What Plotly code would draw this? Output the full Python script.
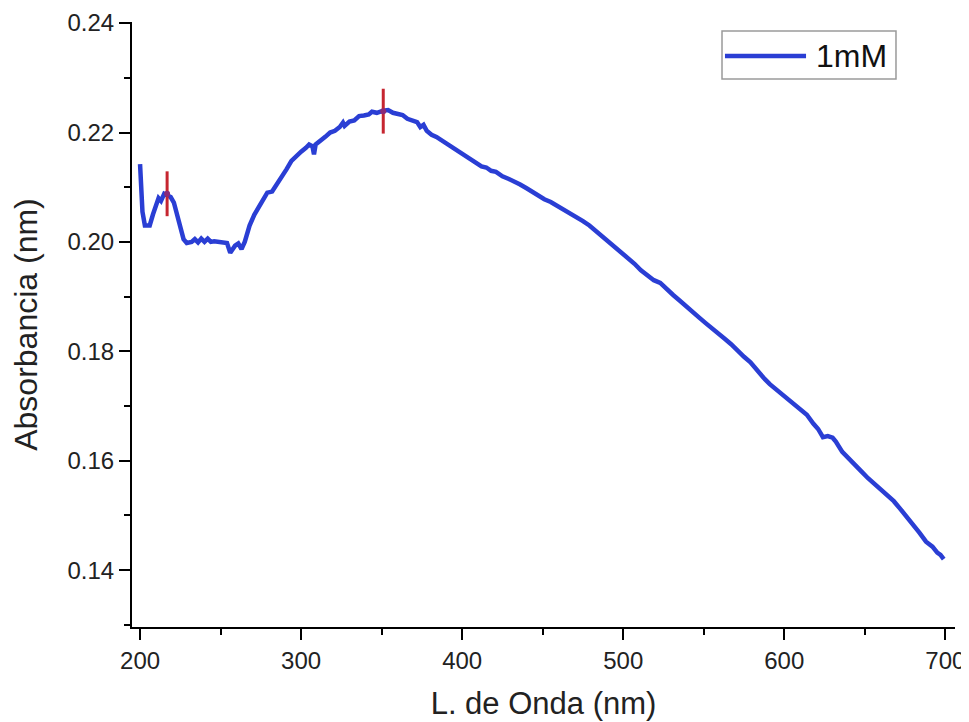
import plotly.graph_objects as go

# ---- data ----
wavelength = [200, 200.8, 201.5, 203, 206, 208, 210, 211.5, 213, 215, 217, 219, 221, 223, 225, 227, 229,
              232, 234, 236, 238, 240, 242, 244, 246, 250, 254, 256, 257.5, 259, 261, 263, 265, 268, 271,
              274, 277, 279, 282, 285, 288, 291, 294, 297, 300, 303, 305, 307, 308, 309, 312, 315, 318,
              321, 324, 326, 327, 330, 333, 336, 339, 342, 344, 347, 351, 354, 357, 360, 363, 366, 369,
              372, 374, 376, 378, 381, 384, 387, 390, 393, 396, 399, 402, 405, 409, 412, 415, 418, 421,
              425, 429, 432, 436, 440, 444, 447, 451, 455, 459, 463, 467, 471, 475, 479, 483, 487, 491,
              495, 499, 503, 507, 511, 515, 519, 523, 527, 531, 535, 539, 543, 547, 551, 555, 559, 563,
              567, 571, 575, 579, 583, 587, 591, 595, 599, 603, 606, 610, 614, 618, 621, 624, 627, 630,
              632, 636, 640, 644, 648, 652, 656, 660, 664, 668, 672, 676, 680, 684, 688, 692, 695, 697, 699]
absorbance = [0.2142, 0.2065, 0.2055, 0.2030, 0.2030, 0.2050, 0.2070, 0.2080, 0.2075, 0.2088, 0.2085,
              0.2082, 0.2072, 0.2050, 0.2025, 0.2005, 0.1998, 0.2000, 0.2005, 0.1999, 0.2006, 0.2000,
              0.2006, 0.2000, 0.2001, 0.2000, 0.1998, 0.1980, 0.1988, 0.1993, 0.1997, 0.1987, 0.2000,
              0.2030, 0.2050, 0.2065, 0.2080, 0.2090, 0.2092, 0.2105, 0.2118, 0.2133, 0.2148, 0.2158,
              0.2165, 0.2172, 0.2178, 0.2175, 0.2160, 0.2178, 0.2184, 0.2192, 0.2200, 0.2203, 0.2210,
              0.2218, 0.2212, 0.2220, 0.2222, 0.2230, 0.2231, 0.2233, 0.2238, 0.2236, 0.2240, 0.2241,
              0.2236, 0.2233, 0.2232, 0.2225, 0.2222, 0.2219, 0.2210, 0.2214, 0.2203, 0.2196, 0.2192,
              0.2186, 0.2180, 0.2175, 0.2170, 0.2162, 0.2156, 0.2150, 0.2143, 0.2138, 0.2136, 0.2130,
              0.2128, 0.2120, 0.2115, 0.2111, 0.2105, 0.2098, 0.2090, 0.2085, 0.2078, 0.2073, 0.2066,
              0.2061, 0.2053, 0.2046, 0.2038, 0.2030, 0.2020, 0.2010, 0.2001, 0.1990, 0.1980, 0.1970,
              0.1960, 0.1948, 0.1938, 0.1930, 0.1925, 0.1913, 0.1903, 0.1893, 0.1882, 0.1872, 0.1862,
              0.1852, 0.1843, 0.1833, 0.1823, 0.1813, 0.1801, 0.1790, 0.1780, 0.1765, 0.1752, 0.1740,
              0.1730, 0.1720, 0.1710, 0.1705, 0.1695, 0.1684, 0.1668, 0.1658, 0.1643, 0.1645, 0.1642,
              0.1635, 0.1616, 0.1603, 0.1591, 0.1580, 0.1568, 0.1558, 0.1548, 0.1538, 0.1526, 0.1512,
              0.1498, 0.1483, 0.1468, 0.1452, 0.1443, 0.1432, 0.1428, 0.1420]

peak_wavelength = [216.8, 351]
peak_absorbance = [0.2088, 0.2239]
peak_error = [0.0041, 0.0041]

series_name = "1mM"
x_title = "L. de Onda (nm)"
y_title = "Absorbancia (nm)"

FONT = "Liberation Sans, Arial, sans-serif"
BLUE = "#2a3ed4"
RED = "#c62630"

fig = go.Figure()
fig.add_trace(go.Scatter(x=wavelength, y=absorbance, mode="lines", name=series_name,
                         line=dict(color=BLUE, width=4.5), showlegend=False))
fig.add_trace(go.Scatter(x=peak_wavelength, y=peak_absorbance, mode="markers",
                         marker=dict(color="#8a2a78", size=6),
                         error_y=dict(type="data", array=peak_error, color=RED, thickness=3, width=0),
                         showlegend=False))

# legend box drawn manually (Origin-style long sample line)
fig.add_shape(type="rect", xref="paper", yref="paper", x0=0.7169, x1=0.9283, y0=0.9058, y1=0.9851,
              line=dict(color="#9a9a9a", width=1.5), fillcolor="white")
fig.add_shape(type="line", xref="paper", yref="paper", x0=0.7205, x1=0.8190, y0=0.9438, y1=0.9438,
              line=dict(color=BLUE, width=4.5))
fig.add_annotation(text=series_name, xref="paper", yref="paper", x=0.8290, y=0.9438,
                   xanchor="left", yanchor="middle", showarrow=False,
                   font=dict(family=FONT, size=32, color="#111"))

axis_common = dict(showline=True, linecolor="black", linewidth=2, ticks="outside", ticklen=11,
                   tickwidth=2, tickcolor="black", showgrid=False, zeroline=False, mirror=False,
                   ticklabeloverflow="allow",
                   tickfont=dict(family=FONT, size=24, color="#222"))

fig.update_xaxes(range=[195, 706], tick0=200, dtick=100,
                 minor=dict(ticks="outside", ticklen=6, tickwidth=2, tickcolor="black", dtick=50, tick0=200),
                 title=dict(text=x_title, font=dict(family=FONT, size=31, color="#222"), standoff=20),
                 **axis_common)
fig.update_yaxes(range=[0.1296, 0.2402], tick0=0.14, dtick=0.02, tickformat=".2f",
                 minor=dict(ticks="outside", ticklen=6, tickwidth=2, tickcolor="black", dtick=0.01, tick0=0.13),
                 title=dict(text=y_title, font=dict(family=FONT, size=32, color="#222"), standoff=20),
                 **axis_common)

# page body has an 8px margin, so the figure is 8px smaller than the window
fig.update_layout(width=961, height=714, paper_bgcolor="white", plot_bgcolor="white",
                  margin=dict(l=124, r=14, t=14, b=95, autoexpand=False),
                  font=dict(family=FONT))

fig.write_html("out.html")
